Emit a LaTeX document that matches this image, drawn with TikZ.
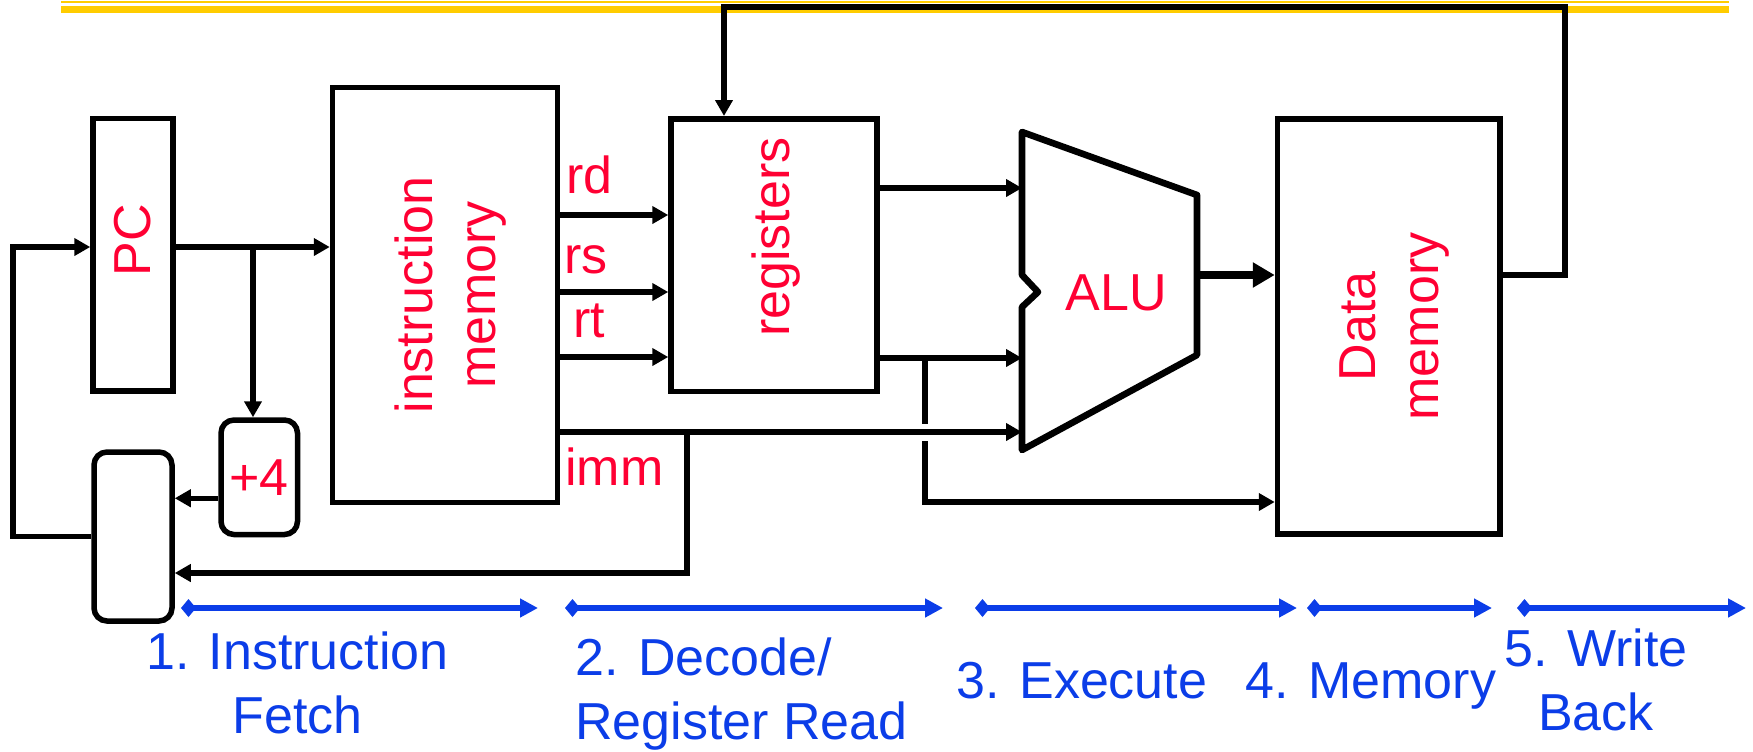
\documentclass[tikz,border=0pt]{standalone}
\usepackage{fontspec}
\setmainfont{Liberation Sans}
\usepackage{xcolor}
\definecolor{dpred}{HTML}{FF0033}
\definecolor{dpblue}{HTML}{0B3DE8}
\definecolor{dpgold}{HTML}{FFCC00}
\usepackage{tikz}
\usetikzlibrary{arrows.meta,positioning,calc}
\tikzset{
  dpbox/.style={draw,line width=2.75pt,inner sep=0pt},
  dpround/.style={dpbox,rounded corners=6.5pt},
  dpline/.style={line width=2.6pt},
  dpwire/.style={dpline,-{Triangle[length=8pt,width=8.5pt]}},
  dpbig/.style={line width=4pt,-{Triangle[length=11pt,width=12pt]}},
  dptext/.style={text=dpred,font=\fontsize{26}{31.5}\selectfont,inner sep=0pt},
  dpvert/.style={dptext,rotate=90,align=center},
  dpstage/.style={draw=dpblue,line width=3pt,{Diamond[length=7.5pt,width=9pt]}-{Triangle[length=9pt,width=9pt]}},
  dpstep/.style={text=dpblue,font=\fontsize{26}{32}\selectfont,inner sep=0pt},
}

\begin{document}
\begin{tikzpicture}[x=0.5pt,y=-0.5pt]
\useasboundingbox (0,0) rectangle (1753,751);
% slide header rule
\fill[dpgold] (61,1) rectangle (1729,3);
\fill[dpgold] (61,6) rectangle (1729,13);
% blocks
\node[dpbox,minimum width=40pt,minimum height=136.25pt] (pc) at (133,254.75) {};
\node[dpround,minimum width=39pt,minimum height=84.5pt] (mux) at (133,536.5) {};
\node[dpround,dptext,minimum width=38.25pt,minimum height=57.25pt] (plus4) at (259.25,477.25) {+4};
\node[dpbox,minimum width=112.5pt,minimum height=207.5pt] (imem) at (445,295) {};
\node[dpbox,minimum width=103pt,minimum height=136.25pt] (reg) at (774,255) {};
\node[dpbox,minimum width=111.25pt,minimum height=207.5pt] (dmem) at (1388.75,326.5) {};
\node[dpvert] (pctxt) at ([yshift=7.25pt]pc.center) {PC};
\node[dpvert] (imemtxt) at ([xshift=3pt]imem.center) {instruction\\memory};
\node[dpvert] (regtxt) at ([xshift=1pt,yshift=9pt]reg.center) {registers};
\node[dpvert] (dmemtxt) at ([xshift=3pt]dmem.center) {Data\\memory};
% ALU
\draw[line width=3.3pt,line join=round] (1022,132) -- (1197,195) -- (1197,355) -- (1022,450) -- (1022,307) -- (1038,292) -- (1022,275) -- cycle;
\node[dptext,anchor=base] (alutxt) at (1116,310) {ALU};
\coordinate (aluin1) at (1022,188);
\coordinate (aluin2) at (1022,358);
\coordinate (aluin3) at (1022,432);
\coordinate (aluout) at (1197,275);
% fetch loop
\coordinate (pcloop) at (13,247);
\coordinate (pcsplit) at (253,247);
\coordinate (p4out) at ([yshift=-10.5pt]plus4.west);
\draw[dpwire] (pc.east |- pcloop) -- (imem.west |- pcloop);
\draw[dpwire] (pcsplit) -- (pcsplit |- plus4.north);
\draw[dpwire] (mux.west) -| (pcloop) -- (pc.west |- pcloop);
\draw[dpwire] (p4out) -- (mux.east |- p4out);
% register fields
\coordinate (rdlvl) at (0,215);
\coordinate (rslvl) at (0,292);
\coordinate (rtlvl) at (0,357);
\foreach \s in {rdlvl,rslvl,rtlvl}
  \draw[dpwire] (imem.east |- \s) -- (reg.west |- \s);
\node[dptext,anchor=base west] (rdtxt) at (566,193) {rd};
\node[dptext,anchor=base west] (rstxt) at (564,273) {rs};
\node[dptext,anchor=base west] (rttxt) at (573,337) {rt};
\node[dptext,anchor=base west] (immtxt) at (565,485) {imm};
% execute and memory
\coordinate (immsplit) at (687,432);
\coordinate (immback) at (687,573);
\coordinate (regsplit) at (925,358);
\coordinate (memaddr) at (925,502);
\coordinate (xing) at (925,432);
\draw[dpwire] (reg.east |- aluin1) -- (aluin1);
\draw[dpwire] (reg.east |- aluin2) -- (aluin2);
\draw[dpwire] (regsplit) -- (memaddr) -- (dmem.west |- memaddr);
\draw[white,line width=5pt] ([yshift=4.25pt]xing) -- ([yshift=-4.25pt]xing);
\draw[dpwire] (imem.east |- aluin3) -- (aluin3);
\draw[dpwire] (immsplit) -- (immback) -- (mux.east |- immback);
\draw[dpbig] (aluout) -- (dmem.west |- aluout);
% write back
\coordinate (wbcorner) at (1565,7);
\coordinate (wbdrop) at (724,7);
\draw[dpwire] (dmem.east |- aluout) -| (wbcorner) -- (wbdrop) -- (wbdrop |- reg.north);
% stages
\foreach \a/\b [count=\i] in {181/538,565/943,975/1297,1307/1492,1517/1746} {
  \coordinate (stl\i) at (\a,608);
  \coordinate (str\i) at (\b,608);
  \draw[dpstage] (stl\i) -- (str\i);
}
\node[dpstep,align=center] (st1txt) at (297.5,683) {1. Instruction\\Fetch};
\node[dpstep,align=left,anchor=west] (st2txt) at (575,694.5) {2. Decode/\\Register Read};
\node[dpstep,anchor=base] (st3txt) at (1082,698) {3. Execute};
\node[dpstep,anchor=base] (st4txt) at (1371,698) {4. Memory};
\node[dpstep,align=center] (st5txt) at (1596,680) {5. Write\\Back};
\end{tikzpicture}
\end{document}
